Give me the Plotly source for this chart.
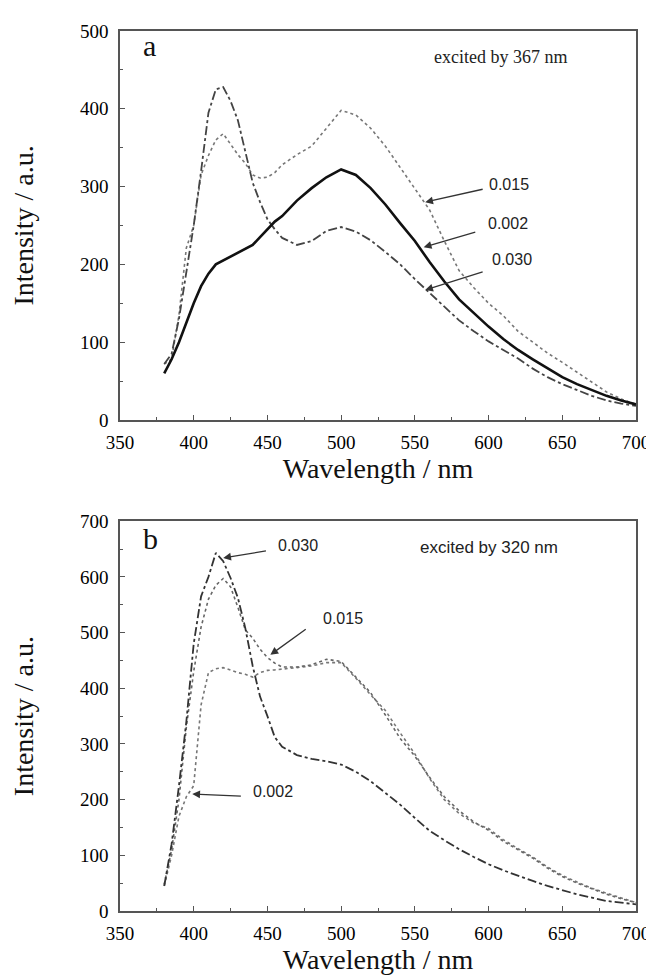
import plotly.graph_objects as go
from plotly.subplots import make_subplots

# wavelength grid (nm) the curves were read on
wl = [380, 385, 390, 395, 400, 405, 410, 415, 420, 425, 430, 435, 440, 445, 450, 455, 460,
      470, 480, 490, 500, 510, 520, 530, 540, 550, 560, 570, 580, 590, 600, 610, 620, 630,
      640, 650, 660, 670, 680, 690, 700]

# panel a - excited by 367 nm
a_002 = [60, 78, 100, 125, 150, 172, 188, 200, 205, 210, 215, 220, 225, 235, 245, 255, 262,
         282, 298, 312, 322, 315, 298, 277, 253, 230, 203, 178, 155, 137, 120, 104, 90, 78,
         66, 55, 46, 38, 31, 25, 20]
a_015 = [72, 78, 135, 221, 250, 315, 340, 360, 368, 355, 341, 330, 315, 311, 312, 318, 328,
         341, 352, 375, 398, 392, 375, 352, 325, 298, 270, 230, 192, 170, 150, 134, 114, 100,
         86, 74, 61, 48, 36, 27, 20]
a_030 = [72, 85, 130, 190, 250, 320, 395, 425, 428, 410, 385, 345, 305, 280, 258, 245, 234,
         225, 230, 243, 248, 242, 231, 216, 200, 181, 163, 145, 128, 114, 101, 90, 79, 66,
         55, 46, 38, 31, 25, 21, 18]

# panel b - excited by 320 nm
b_002 = [45, 100, 170, 205, 225, 370, 428, 435, 437, 432, 428, 425, 420, 428, 432, 433, 434,
         437, 440, 446, 446, 418, 388, 360, 320, 282, 238, 200, 175, 158, 148, 128, 112, 97,
         79, 64, 52, 41, 32, 23, 15]
b_015 = [48, 110, 200, 330, 430, 510, 560, 585, 597, 582, 545, 505, 490, 470, 455, 445, 438,
         438, 442, 452, 448, 420, 392, 352, 310, 278, 240, 205, 180, 160, 145, 125, 110, 95,
         77, 62, 50, 40, 30, 22, 15]
b_030 = [45, 120, 225, 340, 480, 565, 600, 643, 628, 598, 562, 508, 440, 385, 350, 312, 295,
         280, 273, 269, 263, 250, 233, 212, 191, 167, 144, 127, 111, 97, 84, 73, 63, 54,
         45, 37, 30, 24, 18, 15, 12]

serif = "Liberation Serif"
sans = "Liberation Sans"

fig = make_subplots(rows=2, cols=1, vertical_spacing=0.115)

# panel a
fig.add_trace(go.Scatter(x=wl, y=a_015, mode="lines",
                         line=dict(color="#777777", width=1.6, dash="dot")), row=1, col=1)
fig.add_trace(go.Scatter(x=wl, y=a_030, mode="lines",
                         line=dict(color="#444444", width=1.8, dash="dashdot")), row=1, col=1)
fig.add_trace(go.Scatter(x=wl, y=a_002, mode="lines",
                         line=dict(color="#111111", width=2.6)), row=1, col=1)

# panel b
fig.add_trace(go.Scatter(x=wl, y=b_002, mode="lines",
                         line=dict(color="#777777", width=1.6, dash="dot")), row=2, col=1)
fig.add_trace(go.Scatter(x=wl, y=b_015, mode="lines",
                         line=dict(color="#666666", width=1.6, dash="dot")), row=2, col=1)
fig.add_trace(go.Scatter(x=wl, y=b_030, mode="lines",
                         line=dict(color="#333333", width=1.8, dash="dashdot")), row=2, col=1)

axis_common = dict(showgrid=False, zeroline=False, showline=True, linecolor="#555555",
                   linewidth=1.5, mirror=True, ticks="inside", ticklen=5, tickcolor="#555555",
                   tickfont=dict(family=serif, size=19, color="#000000"))

fig.update_xaxes(range=[350, 700], dtick=50, tick0=350, ticklabelstandoff=4,
                 minor=dict(dtick=25, ticks="inside", ticklen=3, tickcolor="#555555"),
                 title=dict(text="Wavelength / nm", font=dict(family=serif, size=28, color="#111111"),
                            standoff=6),
                 **axis_common)
fig.update_yaxes(ticklabelstandoff=6,
                 title=dict(text="Intensity / a.u.", font=dict(family=serif, size=28, color="#111111"),
                            standoff=40),
                 **axis_common)
fig.update_yaxes(range=[0, 500], dtick=100,
                 minor=dict(dtick=50, ticks="inside", ticklen=3, tickcolor="#555555"), row=1, col=1)
fig.update_yaxes(range=[0, 700], dtick=100,
                 minor=dict(dtick=50, ticks="inside", ticklen=3, tickcolor="#555555"), row=2, col=1)

fig.update_layout(yaxis=dict(domain=[0.558, 1.0]), yaxis2=dict(domain=[0.0, 0.443]))

ann = []
# panel letters and excitation notes
ann.append(dict(x=370, y=482, xref="x", yref="y", text="a", showarrow=False,
                font=dict(family=serif, size=30, color="#111111")))
ann.append(dict(x=608, y=466, xref="x", yref="y", text="excited by 367 nm", showarrow=False,
                font=dict(family=serif, size=18, color="#222222")))
ann.append(dict(x=371, y=668, xref="x2", yref="y2", text="b", showarrow=False,
                font=dict(family=serif, size=30, color="#111111")))
ann.append(dict(x=600, y=652, xref="x2", yref="y2", text="excited by 320 nm", showarrow=False,
                font=dict(family=sans, size=17, color="#222222")))

# concentration labels: (text, text x, text y, tail x, tail y, head x, head y, axis suffix)
labels = [
    ("0.015", 614, 303, 597, 297, 557, 280, ""),
    ("0.002", 613, 253, 592, 242, 556, 222, ""),
    ("0.030", 616, 206, 597, 191, 557, 167, ""),
    ("0.030", 471, 657, 450, 647, 420, 634, "2"),
    ("0.015", 501, 526, 477, 508, 452, 460, "2"),
    ("0.002", 454, 214, 433, 206, 399, 210, "2"),
]
for txt, tx, ty, ax, ay, hx, hy, s in labels:
    ann.append(dict(x=tx, y=ty, xref="x" + s, yref="y" + s, text=txt, showarrow=False,
                    font=dict(family=sans, size=16, color="#222222")))
    ann.append(dict(x=hx, y=hy, ax=ax, ay=ay, xref="x" + s, yref="y" + s,
                    axref="x" + s, ayref="y" + s, text="", showarrow=True,
                    arrowhead=2, arrowsize=1.2, arrowwidth=1.3, arrowcolor="#333333"))

fig.update_layout(
    annotations=ann,
    width=654, height=975,
    margin=dict(l=112, r=17, t=23, b=72),
    plot_bgcolor="white", paper_bgcolor="white",
    showlegend=False,
)

fig.write_html("out.html")
